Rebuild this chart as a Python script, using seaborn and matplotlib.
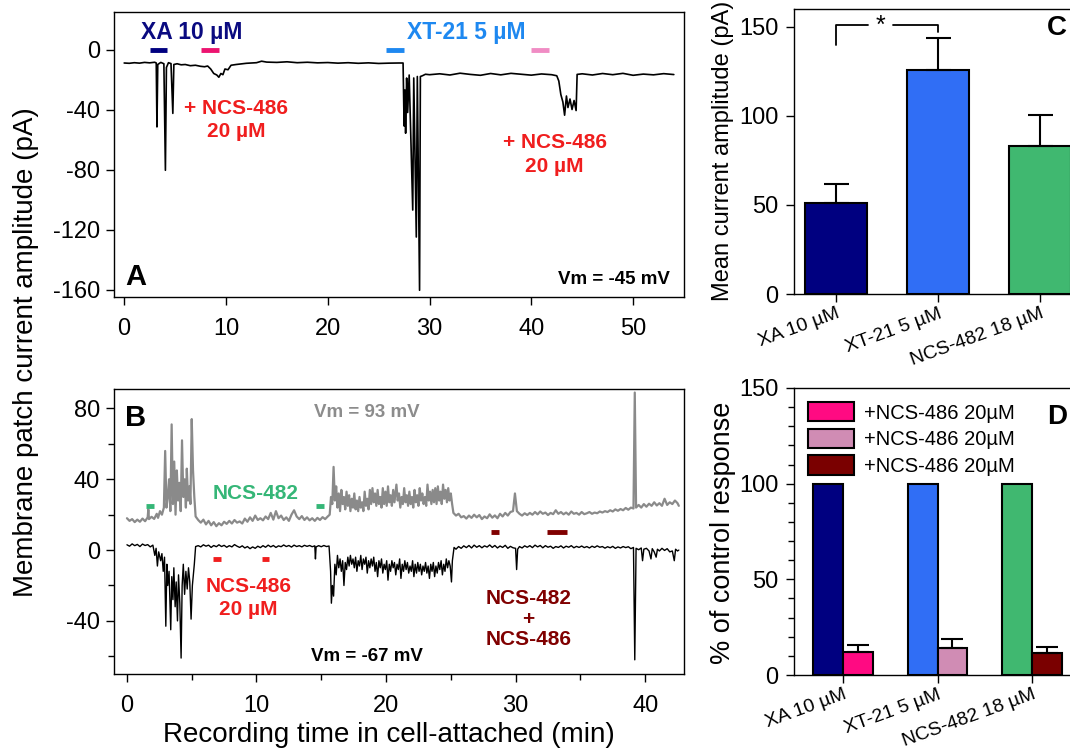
import numpy as np
import pandas as pd
import matplotlib
matplotlib.use("Agg")
import matplotlib.pyplot as plt
import matplotlib.ticker as mticker
from matplotlib.patches import Patch
import seaborn as sns

# ---------------------------------------------------------------- dane
# Panel A: prąd w cell-attached (min, pA)
A_time = [0.0, 0.5, 1.0, 1.5, 2.0, 2.5, 3.0, 3.15, 3.22, 3.3, 3.6, 3.9, 4.05, 4.15,
          4.35, 4.6, 4.78, 4.88, 5.2, 5.6, 6.0, 6.5, 7.0, 7.5, 7.9, 8.2, 8.5, 8.8,
          9.1, 9.3, 9.5, 9.7, 9.9, 10.2, 10.5, 11.0, 12.0, 13.0, 13.5, 14.0, 15.0,
          16.0, 17.0, 18.0, 19.0, 20.0, 21.0, 22.0, 23.0, 24.0, 25.0, 26.0, 27.0,
          27.4, 27.5, 27.58, 27.65, 27.75, 27.85, 28.0, 28.35, 28.45, 28.7, 28.8,
          29.02, 29.1, 29.3, 29.6,
          30.0, 31.0, 32.0, 33.0, 34.0, 35.0, 36.0, 37.0, 38.0, 39.0, 40.0, 41.0,
          42.0, 42.5, 42.7, 42.9, 43.1, 43.27, 43.45, 43.6, 43.8, 44.0, 44.2, 44.4,
          44.5, 45.0, 46.0, 47.0, 48.0, 49.0, 50.0, 51.0, 52.0, 53.0, 54.0]
A_curr = [-9.0, -9.2, -8.8, -9.1, -8.6, -8.9, -8.5, -9.0, -51.6, -10.0, -8.6, -9.5,
          -80.5, -12.0, -8.8, -9.4, -42.6, -10.0, -9.5, -10.2, -10.0, -10.8, -10.5,
          -11.2, -11.5, -11.0, -13.0, -16.0, -17.0, -18.5, -16.0, -16.8, -13.0,
          -13.5, -10.5, -10.0, -9.2, -8.8, -7.8, -8.4, -8.6, -8.2, -8.8, -8.5, -8.9,
          -8.7, -9.1, -8.8, -9.2, -8.9, -9.3, -9.1, -9.0,
          -9.0, -51.0, -27.0, -55.8, -19.0, -42.0, -17.0, -107.0, -19.0, -125.0,
          -18.0, -160.5, -18.0, -17.5, -16.5,
          -16.8, -16.2,
          -17.0, -15.8, -16.6, -17.2, -16.0, -16.9, -15.9, -16.5, -17.1, -16.3,
          -16.8, -17.5, -21.0, -30.0, -35.0, -43.8, -31.0, -38.7, -33.0, -40.0,
          -34.0, -40.7, -16.6, -16.2, -17.0, -16.0, -16.8, -15.9, -17.2, -16.4,
          -16.9, -16.1, -16.7]
A_drug_on = [2.5, 7.5, 25.7, 40.0]
A_drug_off = [4.2, 9.3, 27.5, 41.7]
A_drug_colors = ["#000080", "#EC1470", "#1E88F0", "#F08CC4"]

# Panel B: dwa zapisy (Vm = 93 mV szary, Vm = -67 mV czarny)
B_gray_time = [0.0, 0.2, 0.4, 0.6, 0.8, 1.0, 1.2, 1.4, 1.6, 1.65, 1.7, 1.9, 2.1, 2.3,
               2.4, 2.55, 2.7, 2.85, 2.95, 3.05, 3.15, 3.25, 3.35, 3.45, 3.55, 3.65,
               3.75, 3.85, 3.95, 4.05, 4.15, 4.25, 4.35, 4.45, 4.55, 4.62, 4.72, 4.82,
               4.9, 5.0, 5.1, 5.2, 5.3, 5.5, 5.7, 5.9, 6.1, 6.3, 6.5, 6.7, 6.9, 7.1,
               7.3, 7.5, 7.7, 7.9, 8.1, 8.3, 8.5, 8.7, 8.9, 9.1, 9.3, 9.5, 9.7, 9.9,
               10.1, 10.3, 10.5, 10.7, 10.9, 11.1, 11.3, 11.5, 11.7, 11.9, 12.1, 12.3,
               12.5, 12.7, 12.9, 13.1, 13.3, 13.5, 13.7, 13.9, 14.1, 14.3, 14.5, 14.7,
               14.9, 15.1, 15.3, 15.5, 15.65, 15.75, 15.85, 15.95, 16.05, 16.15, 16.25,
               16.35, 16.45, 16.55, 16.65, 16.75, 16.85, 16.95, 17.05, 17.15, 17.25,
               17.35, 17.45, 17.55, 17.65, 17.75, 17.85, 17.95, 18.05, 18.15, 18.25,
               18.35, 18.45, 18.55, 18.65, 18.75, 18.85, 18.95, 19.05, 19.15, 19.25,
               19.35, 19.45, 19.55, 19.65, 19.75, 19.85, 19.95, 20.05, 20.15, 20.25,
               20.35, 20.45, 20.55, 20.65, 20.8, 20.9, 21.0, 21.1, 21.2, 21.3, 21.4,
               21.5, 21.6, 21.7, 21.8, 21.9, 22.0, 22.1, 22.2, 22.3, 22.4, 22.5, 22.6,
               22.7, 22.8, 22.9, 23.0, 23.1, 23.2, 23.3, 23.4, 23.5, 23.6, 23.7, 23.8,
               23.9, 24.0, 24.1, 24.2, 24.3, 24.4, 24.5, 24.6, 24.7, 24.8, 24.9, 25.0,
               25.1, 25.2, 25.4, 25.6, 25.8, 26.0, 26.2, 26.4, 26.6, 26.8, 27.0, 27.2,
               27.4, 27.6, 27.8, 28.0, 28.2, 28.4, 28.6, 28.8, 29.0, 29.2, 29.4, 29.6,
               29.8, 29.95, 30.1, 30.3, 30.5, 30.7, 30.9, 31.1, 31.3, 31.5, 31.7, 31.9,
               32.1, 32.3, 32.5, 32.7, 32.9, 33.1, 33.3, 33.5, 33.7, 33.9, 34.1, 34.3,
               34.5, 34.7, 34.9, 35.1, 35.3, 35.5, 35.7, 35.9, 36.1, 36.3, 36.5, 36.7,
               36.9, 37.1, 37.3, 37.5, 37.7, 37.9, 38.1, 38.3, 38.5, 38.7, 38.9, 39.1,
               39.2, 39.3, 39.5, 39.7, 39.9, 40.1, 40.3, 40.5, 40.7, 40.9, 41.1, 41.3,
               41.5, 41.7, 41.9, 42.1, 42.3, 42.5, 42.6]
B_gray_curr = [18.0, 16.5, 17.5, 15.8, 17.2, 16.0, 17.8, 16.3, 18.5, 23.0, 17.5, 18.8,
               17.6, 20.5, 18.2, 22.0, 20.0, 24.0, 56.0, 24.0, 30.0, 40.0, 22.0, 71.0,
               26.0, 50.0, 20.0, 45.0, 28.0, 38.0, 22.0, 62.0, 30.0, 40.0, 24.0, 46.0,
               28.0, 36.0, 26.0, 74.0, 45.0, 30.0, 19.0, 17.0, 15.5, 17.2, 14.5, 16.5,
               14.0, 15.8, 13.5, 15.2, 14.0, 16.0, 14.8, 16.5, 15.0, 17.0, 15.5, 16.2,
               15.0, 17.8, 16.0, 18.5, 16.5, 19.5, 17.0, 18.0, 16.8, 19.0, 17.5, 21.0,
               17.2, 22.0, 18.0, 19.5, 17.0, 18.5, 16.5, 20.0, 22.5, 19.0, 17.5, 19.2,
               17.0, 18.5, 16.8, 18.0, 16.5, 18.2, 17.0, 18.6, 17.5, 19.0, 20.0, 30.0,
               26.0, 47.0, 28.0, 36.0, 24.0, 32.0, 22.0, 34.0, 26.0, 30.0, 23.0, 33.0,
               25.0, 31.0, 22.0, 29.0, 24.0, 32.0, 23.0, 28.0, 22.0, 30.0, 24.0, 27.0,
               22.0, 33.0, 25.0, 29.0, 23.0, 34.0, 26.0, 35.0, 27.0, 32.0, 25.0, 34.0,
               26.0, 30.0, 24.0, 35.0, 26.0, 33.0, 25.0, 36.0, 27.0, 31.0, 25.0, 34.0,
               27.0, 37.0, 28.0, 32.0, 24.0, 30.0, 26.0, 35.0, 27.0, 31.0, 25.0, 33.0,
               26.0, 30.0, 24.0, 34.0, 27.0, 31.0, 25.0, 35.0, 28.0, 32.0, 26.0, 30.0,
               25.0, 37.0, 28.0, 33.0, 26.0, 34.0, 27.0, 35.0, 26.0, 36.0, 28.0, 33.0,
               26.0, 37.0, 29.0, 34.0, 27.0, 35.0, 28.0, 32.0, 26.0, 21.0, 19.5, 20.5,
               18.5, 19.2, 17.8, 19.5, 18.2, 20.0, 18.5, 19.8, 17.5, 19.0, 18.0, 20.2,
               18.3, 19.6, 18.0, 20.5, 19.0, 21.0, 19.5, 21.5, 22.0, 32.0, 22.0, 20.5,
               19.5, 20.8, 19.8, 21.0, 20.0, 21.5, 20.2, 21.8, 20.5, 21.2, 19.8, 21.0,
               20.3, 22.5, 20.5, 21.5, 20.2, 21.2, 20.0, 21.8, 20.5, 21.0, 20.0, 21.5,
               20.3, 20.8, 21.5, 20.5, 21.2, 20.8, 21.8, 21.2, 22.0, 21.5, 22.5, 21.8,
               23.0, 22.2, 23.2, 22.5, 23.8, 22.8, 24.0, 23.5, 89.0, 24.0, 25.5, 24.0,
               26.0, 24.5, 26.2, 25.0, 27.0, 25.2, 26.5, 25.0, 29.0, 25.5, 27.0, 26.0,
               28.0, 26.5, 25.0]

B_black_time = [0.0, 0.2, 0.4, 0.6, 0.8, 1.0, 1.2, 1.4, 1.6, 1.8, 2.0, 2.15, 2.25, 2.35,
                2.45, 2.6, 2.7, 2.8, 2.9, 3.0, 3.08, 3.15, 3.25, 3.38, 3.46, 3.55, 3.62,
                3.72, 3.8, 3.9, 3.98, 4.08, 4.18, 4.26, 4.35, 4.45, 4.55, 4.65, 4.75,
                4.85, 4.95, 5.05, 5.2, 5.3, 5.5, 5.7, 5.9, 6.1, 6.3, 6.5, 6.7, 6.9, 7.1,
                7.3, 7.5, 7.7, 7.9, 8.1, 8.3, 8.5, 8.7, 8.9, 9.1, 9.3, 9.5, 9.7, 9.9,
                10.1, 10.3, 10.5, 10.7, 10.9, 11.1, 11.3, 11.5, 11.7, 11.9, 12.1, 12.3,
                12.5, 12.7, 12.9, 13.1, 13.3, 13.5, 13.7, 13.9, 14.1, 14.3, 14.5, 14.55,
                14.6, 14.8, 15.0, 15.2, 15.4, 15.6, 15.72, 15.78, 15.86, 15.95, 16.05,
                16.15, 16.25, 16.35, 16.45, 16.55, 16.65, 16.75, 16.85, 16.95, 17.05,
                17.15, 17.25, 17.35, 17.45, 17.55, 17.65, 17.75, 17.85, 17.95, 18.05,
                18.15, 18.25, 18.35, 18.45, 18.55, 18.65, 18.75, 18.85, 18.95, 19.05,
                19.15, 19.25, 19.35, 19.45, 19.55, 19.65, 19.75, 19.85, 19.95, 20.05,
                20.15, 20.25, 20.35, 20.45, 20.55, 20.65, 20.75, 20.85, 20.95, 21.05,
                21.15, 21.25, 21.35, 21.45, 21.55, 21.65, 21.75, 21.85, 21.95, 22.05,
                22.15, 22.25, 22.35, 22.45, 22.55, 22.65, 22.75, 22.85, 22.95, 23.05,
                23.15, 23.25, 23.35, 23.45, 23.55, 23.65, 23.75, 23.85, 23.95, 24.05,
                24.15, 24.25, 24.35, 24.45, 24.55, 24.65, 24.75, 24.85, 24.95, 25.05,
                25.12, 25.25, 25.4, 25.6, 25.8, 26.0, 26.2, 26.4, 26.6, 26.8, 27.0,
                27.2, 27.4, 27.6, 27.8, 28.0, 28.2, 28.4, 28.6, 28.8, 29.0, 29.2, 29.4,
                29.6, 29.8, 30.0, 30.08, 30.16, 30.3, 30.5, 30.7, 30.9, 31.1, 31.3,
                31.5, 31.7, 31.9, 32.1, 32.3, 32.5, 32.7, 32.9, 33.1, 33.3, 33.5, 33.7,
                33.9, 34.1, 34.3, 34.5, 34.7, 34.9, 35.1, 35.3, 35.5, 35.7, 35.9, 36.1,
                36.3, 36.5, 36.7, 36.9, 37.1, 37.3, 37.5, 37.7, 37.9, 38.1, 38.3, 38.5,
                38.7, 38.9, 39.1, 39.2, 39.3, 39.5, 39.7, 39.8, 39.9, 40.1, 40.3, 40.45,
                40.55, 40.7, 40.85, 40.95, 41.1, 41.3, 41.5, 41.7, 41.9, 42.1, 42.25,
                42.35, 42.5, 42.6]
B_black_curr = [3.0, 2.2, 3.5, 2.5, 3.2, 2.0, 3.4, 2.6, 3.1, 1.8, 2.8, -3.0, 1.0, -9.0,
                -1.0, -6.0, -2.0, -12.0, -4.0, -43.0, -8.0, -20.0, -12.0, -45.0, -15.0,
                -28.0, -10.0, -32.0, -18.0, -40.0, -14.0, -30.0, -61.0, -20.0, -8.0,
                -25.0, -12.0, -22.0, -10.0, -18.0, -39.0, -20.0, -8.0, 2.0, 2.5, 1.8,
                3.0, 2.2, 2.8, 1.5, 2.6, 1.9, 3.0, 2.0, 2.7, 1.6, 2.5, 1.8, 3.1, 2.2,
                1.5, 2.4, 1.2, 2.0, 0.8, 1.8, 1.0, 2.2, 1.4, 2.5, 1.6, 2.8, 1.8, 2.6,
                1.5, 2.4, 1.9, 2.9, 2.0, 2.6, 1.7, 2.8, 2.0, 2.5, 1.8, 2.7, 2.1, 2.6,
                1.9, 2.4, -5.0, 1.8, 2.5, 1.9, 2.6, 2.0, 2.3, -12.0, -30.0, -20.0, -26.0,
                -8.0, -14.0, -3.0, -10.0, -5.0, -12.0, -6.0, -20.0, -7.0, -11.0, -4.0,
                -9.0, -3.0, -8.0, -5.0, -10.0, -4.0, -12.0, -6.0, -9.0, -3.0, -11.0,
                -5.0, -8.0, -4.0, -13.0, -6.0, -10.0, -5.0, -9.0, -4.0, -12.0, -7.0,
                -15.0, -6.0, -10.0, -5.0, -13.0, -8.0, -11.0, -6.0, -17.0, -8.0, -12.0,
                -6.0, -10.0, -7.0, -14.0, -8.0, -11.0, -5.0, -16.0, -8.0, -12.0, -6.0,
                -11.0, -7.0, -13.0, -9.0, -12.0, -6.0, -15.0, -8.0, -13.0, -7.0, -12.0,
                -8.0, -14.0, -9.0, -12.0, -7.0, -13.0, -9.0, -16.0, -8.0, -12.0, -7.0,
                -15.0, -9.0, -13.0, -7.0, -11.0, -6.0, -14.0, -8.0, -12.0, -5.0, -10.0,
                -6.0, -9.0, -18.0, -6.0, 1.5, 0.5, 2.0, 1.0, 2.4, 1.4, 2.6, 1.2, 2.8,
                1.6, 2.5, 1.3, 2.4, 1.7, 2.9, 1.5, 2.6, 1.2, 2.3, 1.5, 2.7, 1.0, 2.1,
                1.3, 1.0, -11.0, 0.5, 2.0, 1.2, 2.4, 1.6, 2.5, 1.4, 2.8, 1.8, 2.6, 1.3,
                2.5, 1.6, 2.2, 1.0, 2.0, 1.5, 2.4, 1.2, 2.2, 1.6, 2.5, 1.3, 2.1, 1.5,
                2.3, 1.4, 2.0, 1.2, 2.2, 1.5, 2.4, 1.6, 2.0, 1.1, 1.9, 1.3, 2.1, 1.0,
                1.8, 1.2, 2.0, 1.4, 1.9, 0.8, 1.5, -62.0, 1.0, 0.2, 1.2, -6.0, 0.5,
                1.0, -0.5, -5.0, 0.8, -1.0, -4.0, 0.5, -0.5, 1.0, -0.2, 0.8, -1.0,
                -0.5, -6.0, 0.5, -0.5, 0.0]
B_drug_on = [1.5, 14.6, 6.65, 10.45, 28.1, 32.4]
B_drug_off = [2.1, 15.2, 7.25, 11.0, 28.7, 34.0]
B_drug_level = [25, 25, -5, -5, 10, 10]
B_drug_colors = ["#35B677", "#35B677", "#F01E1E", "#F01E1E", "#800000", "#800000"]

# Panel C: średnia amplituda prądu (pA) ± SEM
C_labels = ["XA 10 µM", "XT-21 5 µM", "NCS-482 18 µM"]
C_mean = [51, 126, 83]
C_sem = [11, 18, 17.5]
C_colors = ["#000080", "#306EF5", "#40B870"]

# Panel D: % odpowiedzi kontrolnej
D_control = [100, 100, 100]
D_treated = [12, 14, 11.5]
D_treated_sem = [3.5, 5, 3]
D_treated_colors = ["#FF0A82", "#D08CB4", "#7A0000"]
D_legend = ["+NCS-486 20µM", "+NCS-486 20µM", "+NCS-486 20µM"]

# ---------------------------------------------------------------- styl
sns.set_theme(style="ticks")
plt.rcParams["font.family"] = ["Liberation Sans", "DejaVu Sans"]
plt.rcParams["axes.unicode_minus"] = False
plt.rcParams["axes.linewidth"] = 1.0
plt.rcParams["text.color"] = "black"
plt.rcParams["axes.edgecolor"] = "black"
for k in ("xtick", "ytick"):
    plt.rcParams[f"{k}.color"] = "black"
    plt.rcParams[f"{k}.labelcolor"] = "black"
    plt.rcParams[f"{k}.major.width"] = 1.0
    plt.rcParams[f"{k}.minor.width"] = 1.0

TICK_FS = 17
W, H = 1070, 754


def _px(left, top, right, bottom):
    return [left / W, 1 - bottom / H, (right - left) / W, (bottom - top) / H]


fig = plt.figure(figsize=(W / 100, H / 100), dpi=100)
axA = fig.add_axes(_px(114, 12, 684, 297))
axB = fig.add_axes(_px(114, 389, 684, 674))
axC = fig.add_axes(_px(794, 9, 1082, 294))
axD = fig.add_axes(_px(794, 388, 1081, 675))

for ax in (axA, axB, axC, axD):
    ax.tick_params(axis="both", which="major", labelsize=TICK_FS, length=6, pad=4)
    ax.tick_params(axis="both", which="minor", length=4)

# --- A
sns.lineplot(x=A_time, y=A_curr, ax=axA, color="black", linewidth=1.2,
             estimator=None, sort=False)
for t0, t1, c in zip(A_drug_on, A_drug_off, A_drug_colors):
    axA.plot([t0, t1], [0, 0], color=c, linewidth=3.5, solid_capstyle="butt")
axA.set_xlim(-1, 55)
axA.set_ylim(-165, 25)
axA.xaxis.set_major_locator(mticker.MultipleLocator(10))
axA.yaxis.set_major_locator(mticker.MultipleLocator(40))
axA.tick_params(axis="x", pad=9)
axA.text(6.6, 11.5, "XA 10 µM", color="#0A0A80", fontsize=16.5, fontweight="bold",
         ha="center", va="center")
axA.text(33.6, 11.5, "XT-21 5 µM", color="#1E88F0", fontsize=16.5, fontweight="bold",
         ha="center", va="center")
axA.text(11.0, -47, "+ NCS-486\n20 µM", color="#F01E1E", fontsize=15,
         fontweight="bold", ha="center", va="center", linespacing=1.3)
axA.text(42.3, -70, "+ NCS-486\n20 µM", color="#F01E1E", fontsize=15,
         fontweight="bold", ha="center", va="center", linespacing=1.3)
axA.text(0.975, 0.06, "Vm = -45 mV", transform=axA.transAxes, fontsize=13.5,
         fontweight="bold", ha="right", va="center")
axA.text(0.019, 0.07, "A", transform=axA.transAxes, fontsize=21,
         fontweight="bold", ha="left", va="center")

# --- B
sns.lineplot(x=B_gray_time, y=B_gray_curr, ax=axB, color="#8A8A8A", linewidth=1.6,
             estimator=None, sort=False)
sns.lineplot(x=B_black_time, y=B_black_curr, ax=axB, color="black", linewidth=1.0,
             estimator=None, sort=False)
for t0, t1, lvl, c in zip(B_drug_on, B_drug_off, B_drug_level, B_drug_colors):
    axB.plot([t0, t1], [lvl, lvl], color=c, linewidth=3.5, solid_capstyle="butt")
axB.set_xlim(-1, 43)
axB.set_ylim(-70, 91)
axB.xaxis.set_major_locator(mticker.MultipleLocator(10))
axB.xaxis.set_minor_locator(mticker.MultipleLocator(5))
axB.yaxis.set_major_locator(mticker.MultipleLocator(40))
axB.yaxis.set_minor_locator(mticker.MultipleLocator(20))
axB.tick_params(axis="x", pad=9)
axB.text(18.5, 77.5, "Vm = 93 mV", color="#8C8C8C", fontsize=13.5,
         fontweight="bold", ha="center", va="center")
axB.text(9.9, 32, "NCS-482", color="#35B677", fontsize=15, fontweight="bold",
         ha="center", va="center")
axB.text(9.4, -27, "NCS-486\n20 µM", color="#F01E1E", fontsize=15,
         fontweight="bold", ha="center", va="center", linespacing=1.3)
axB.text(31.0, -39, "NCS-482\n+\nNCS-486", color="#800000", fontsize=15,
         fontweight="bold", ha="center", va="center", linespacing=1.1)
axB.text(18.5, -60, "Vm = -67 mV", color="black", fontsize=13.5,
         fontweight="bold", ha="center", va="center")
axB.text(0.019, 0.898, "B", transform=axB.transAxes, fontsize=21,
         fontweight="bold", ha="left", va="center")

fig.text(0.024, 0.533, "Membrane patch current amplitude (pA)", rotation=90,
         fontsize=20, ha="center", va="center")
fig.text(0.363, 0.025, "Recording time in cell-attached (min)", fontsize=20,
         ha="center", va="center")

# --- C
sns.barplot(x=C_labels, y=C_mean, hue=C_labels, palette=C_colors, legend=False,
            saturation=1, width=0.61, edgecolor="black", linewidth=1.5, ax=axC)
c_x = [p.get_x() + p.get_width() / 2 for p in axC.patches]
axC.errorbar(c_x, C_mean, yerr=[np.zeros(len(C_sem)), C_sem], fmt="none",
             ecolor="black", elinewidth=1.5, capsize=9, capthick=1.5)
axC.set_xlim(-0.41, 2.41)
axC.set_ylim(0, 160)
axC.yaxis.set_major_locator(mticker.MultipleLocator(50))
sig_y, sig_low = 151, 140
axC.plot([c_x[0], c_x[0], 0.31], [sig_low, sig_y, sig_y], color="black", lw=1.3)
axC.plot([0.56, c_x[1], c_x[1]], [sig_y, sig_y, sig_y - 4], color="black", lw=1.3)
axC.text(0.435, sig_y - 0.5, "*", fontsize=18, ha="center", va="center")
fig.text(0.676, 0.80, "Mean current amplitude (pA)", rotation=90, fontsize=17,
         ha="center", va="center")
fig.text(1047 / W, 1 - 28 / H, "C", fontsize=20, fontweight="bold",
         ha="left", va="center")

# --- D
df_d = pd.DataFrame({
    "drug": C_labels * 2,
    "cond": ["kontrola"] * len(C_labels) + ["NCS-486"] * len(C_labels),
    "pct": D_control + D_treated,
})
sns.barplot(data=df_d, x="drug", y="pct", hue="cond", width=0.635, gap=0,
            saturation=1, edgecolor="black", linewidth=1.5, legend=False,
            errorbar=None, ax=axD)
for p, c in zip(axD.patches, C_colors + D_treated_colors):
    p.set_facecolor(c)
d_x = [p.get_x() + p.get_width() / 2 for p in axD.patches[len(C_labels):]]
axD.errorbar(d_x, D_treated, yerr=[np.zeros(len(D_treated_sem)), D_treated_sem],
             fmt="none", ecolor="black", elinewidth=1.5, capsize=8, capthick=1.5)
axD.set_xlim(-0.52, 2.52)
axD.set_ylim(0, 150)
axD.yaxis.set_major_locator(mticker.MultipleLocator(50))
axD.yaxis.set_minor_locator(mticker.MultipleLocator(10))
handles = [Patch(facecolor=c, edgecolor="black", linewidth=1.5) for c in D_treated_colors]
axD.legend(handles, D_legend, loc="upper left", frameon=False, fontsize=14.5,
           handlelength=2.3, handleheight=1.1, handletextpad=0.5,
           labelspacing=0.3, borderaxespad=0.4, borderpad=0.3)
fig.text(0.676, 0.294, "% of control response", rotation=90, fontsize=19.5,
         ha="center", va="center")
fig.text(1047 / W, 1 - 417 / H, "D", fontsize=20, fontweight="bold",
         ha="left", va="center")

for ax in (axC, axD):
    ax.set_xlabel("")
    ax.set_ylabel("")
    ax.tick_params(axis="y", pad=5)
    ax.tick_params(axis="x", labelsize=14, pad=2)
    for lab in ax.get_xticklabels():
        lab.set_rotation(20)
        lab.set_ha("right")
        lab.set_va("top")
        lab.set_rotation_mode("anchor")

for ax in (axA, axB):
    ax.set_xlabel("")
    ax.set_ylabel("")

fig.savefig("out.png", dpi=100)
plt.close(fig)
